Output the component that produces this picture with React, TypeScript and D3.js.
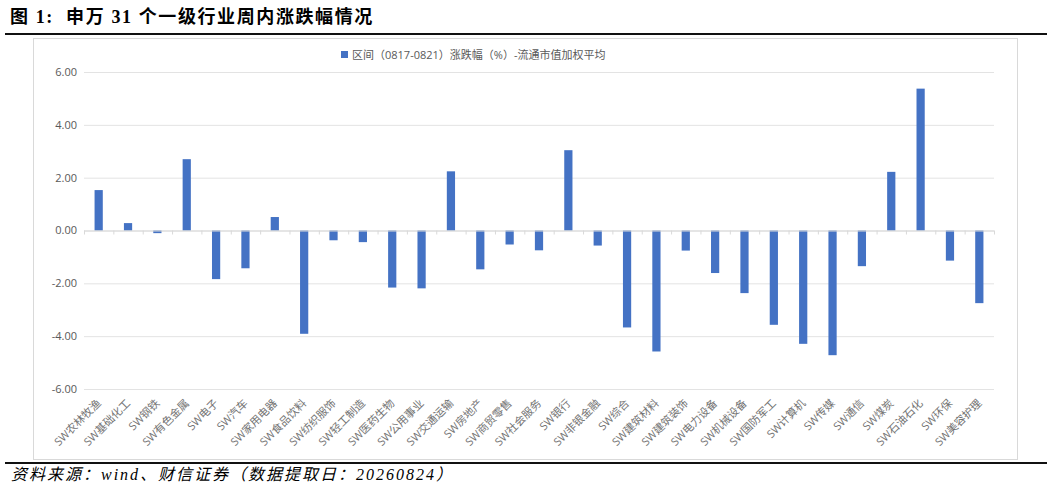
import { useRef, useEffect } from "react"
import * as d3 from "d3"

// SW level-1 industries and weekly change (%)
const industries = [
  "SW农林牧渔", "SW基础化工", "SW钢铁", "SW有色金属", "SW电子", "SW汽车", "SW家用电器", "SW食品饮料",
  "SW纺织服饰", "SW轻工制造", "SW医药生物", "SW公用事业", "SW交通运输", "SW房地产", "SW商贸零售", "SW社会服务",
  "SW银行", "SW非银金融", "SW综合", "SW建筑材料", "SW建筑装饰", "SW电力设备", "SW机械设备", "SW国防军工",
  "SW计算机", "SW传媒", "SW通信", "SW煤炭", "SW石油石化", "SW环保", "SW美容护理",
]
const changes = [
  1.53, 0.28, -0.1, 2.7, -1.84, -1.43, 0.51, -3.91,
  -0.37, -0.44, -2.16, -2.19, 2.24, -1.47, -0.53, -0.75,
  3.04, -0.57, -3.67, -4.58, -0.76, -1.61, -2.37, -3.57,
  -4.29, -4.72, -1.35, 2.22, 5.37, -1.14, -2.75,
]
const yTicks = [6, 4, 2, 0, -2, -4, -6]

const seriesName = "区间（0817-0821）涨跌幅（%）-流通市值加权平均"
const titleText = "图 1:  申万 31 个一级行业周内涨跌幅情况"
const sourceText = "资料来源：wind、财信证券（数据提取日：20260824）"

const W = 1053
const H = 490
const sansFont = "'Open Sans', 'Noto Sans CJK SC', sans-serif"
const serifFont = "'Liberation Serif', 'Noto Sans CJK SC', serif"

export default function App() {
  const svgRef = useRef<SVGSVGElement | null>(null)

  useEffect(() => {
    if (!svgRef.current) return
    const svg = d3.select(svgRef.current)
    svg.selectAll("*").remove()

    // title + rules
    svg
      .append("text")
      .attr("x", 10)
      .attr("y", 23)
      .style("font-family", serifFont)
      .style("font-size", "18px")
      .style("font-weight", "bold")
      .style("letter-spacing", "1.6px")
      .style("white-space", "pre")
      .attr("fill", "#000")
      .text(titleText)

    svg.append("line").attr("x1", 5).attr("x2", 1047).attr("y1", 34).attr("y2", 34).attr("stroke", "#111").attr("stroke-width", 2)
    svg.append("line").attr("x1", 5).attr("x2", 1047).attr("y1", 463).attr("y2", 463).attr("stroke", "#111").attr("stroke-width", 2)

    // chart frame
    svg
      .append("rect")
      .attr("x", 33.5)
      .attr("y", 38.5)
      .attr("width", 984)
      .attr("height", 421)
      .attr("fill", "#fff")
      .attr("stroke", "#d9d9d9")

    // scales
    const x = d3.scaleBand<string>().domain(industries).range([84, 994]).paddingInner(0.72).paddingOuter(0.36)
    const y = d3.scaleLinear().domain([-6, 6]).range([389, 72])

    // gridlines
    svg
      .append("g")
      .selectAll("line")
      .data(yTicks)
      .enter()
      .append("line")
      .attr("x1", 84)
      .attr("x2", 994)
      .attr("y1", (d) => y(d) + 0.5)
      .attr("y2", (d) => y(d) + 0.5)
      .attr("stroke", "#e3e3e3")
      .attr("stroke-width", 1)

    // y labels
    svg
      .append("g")
      .selectAll("text")
      .data(yTicks)
      .enter()
      .append("text")
      .attr("x", 77)
      .attr("y", (d) => y(d))
      .attr("dy", "0.35em")
      .attr("text-anchor", "end")
      .style("font-family", sansFont)
      .style("font-size", "11px")
      .attr("fill", "#595959")
      .text((d) => d.toFixed(2))

    // bars
    svg
      .append("g")
      .selectAll("rect")
      .data(industries)
      .enter()
      .append("rect")
      .attr("x", (d) => x(d) ?? 0)
      .attr("width", x.bandwidth())
      .attr("y", (_, i) => y(Math.max(0, changes[i])))
      .attr("height", (_, i) => Math.abs(y(changes[i]) - y(0)))
      .attr("fill", "#4472c4")

    // zero axis with tick marks at category boundaries
    const step = x.step()
    svg.append("line").attr("x1", 84).attr("x2", 994).attr("y1", y(0) + 0.5).attr("y2", y(0) + 0.5).attr("stroke", "#d9d9d9")
    svg
      .append("g")
      .selectAll("line")
      .data(d3.range(industries.length + 1))
      .enter()
      .append("line")
      .attr("x1", (i) => 84 + i * step + 0.5)
      .attr("x2", (i) => 84 + i * step + 0.5)
      .attr("y1", y(0))
      .attr("y2", y(0) + 4)
      .attr("stroke", "#d9d9d9")

    // x labels
    svg
      .append("g")
      .selectAll("text")
      .data(industries)
      .enter()
      .append("text")
      .attr("transform", (d) => `translate(${(x(d) ?? 0) + x.bandwidth() / 2 + 3},${y(-6) + 15}) rotate(-45)`)
      .attr("text-anchor", "end")
      .style("font-family", sansFont)
      .style("font-size", "11px")
      .attr("fill", "#737373")
      .text((d) => d)

    // legend
    svg.append("rect").attr("x", 341).attr("y", 51).attr("width", 7).attr("height", 7).attr("fill", "#4472c4")
    svg
      .append("text")
      .attr("x", 352)
      .attr("y", 58.5)
      .style("font-family", sansFont)
      .style("font-size", "11px")
      .attr("fill", "#595959")
      .text(seriesName)

    // source note
    svg
      .append("text")
      .attr("x", 11)
      .attr("y", 480)
      .style("font-family", serifFont)
      .style("font-size", "16px")
      .style("font-style", "italic")
      .style("letter-spacing", "2px")
      .attr("fill", "#000")
      .text(sourceText)
  }, [])

  return (
    <svg
      ref={svgRef}
      width={W}
      height={H}
      style={{ position: "absolute", left: 0, top: 0, display: "block", background: "#fff" }}
    ></svg>
  )
}
